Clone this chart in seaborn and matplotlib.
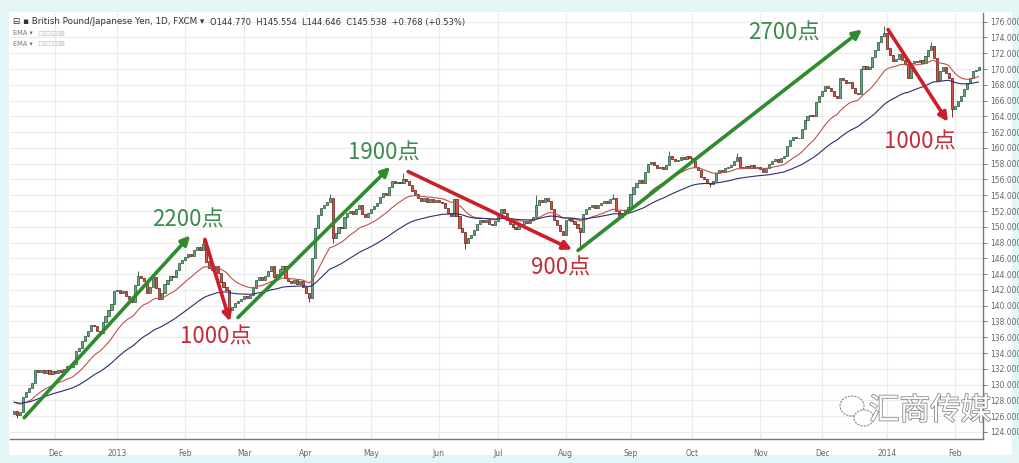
import numpy as np
import pandas as pd
import matplotlib
matplotlib.use("Agg")
import matplotlib.pyplot as plt
import seaborn as sns
from matplotlib import patheffects as pe
from matplotlib.patches import Rectangle, Ellipse

# ---------------- data (daily closes, GBP/JPY) ----------------
dates = pd.bdate_range("2012-11-13", "2014-02-13")
nov_2012 = [126.6, 126.2, 126.5, 128.4, 129.0, 129.6, 130.2, 131.8, 131.6, 131.9, 131.5, 131.8, 131.4, 131.7]
dec_2012 = [131.5, 131.9, 131.6, 132.0, 132.4, 132.2, 132.6, 134.2, 134.6, 135.5, 136.2, 136.8, 137.6, 137.4,
            136.8, 136.5, 137.9, 138.7, 139.4, 140.2, 141.8]
jan_2013 = [142.0, 141.6, 141.9, 141.2, 140.9, 140.5, 142.6, 143.8, 143.5, 143.1, 141.6, 142.4, 143.6, 142.3,
            140.8, 141.6, 142.7, 143.2, 143.8, 143.6, 144.5, 145.4, 145.8]
feb_2013 = [146.2, 146.6, 146.3, 147.0, 147.4, 147.1, 147.8, 145.6, 144.8, 144.5, 145.0, 144.1, 143.0, 142.4,
            142.0, 139.5, 139.8, 140.3, 140.6, 140.9]
mar_2013 = [141.2, 141.0, 141.4, 142.3, 143.3, 143.6, 143.2, 143.8, 144.4, 145.0, 143.6, 144.0, 144.7, 145.0,
            143.5, 143.1, 142.9, 143.2, 142.8, 143.1, 142.4]
apr_2013 = [141.6, 141.0, 146.0, 149.8, 151.5, 152.4, 152.8, 153.2, 153.6, 148.6, 149.2, 150.0, 149.8, 151.2,
            151.8, 152.0, 151.6, 152.2, 152.8, 151.6, 151.3, 151.8]
may_2013 = [152.3, 152.6, 153.0, 153.8, 154.3, 154.0, 155.0, 155.8, 155.5, 155.7, 155.6, 156.0, 155.8, 155.3,
            154.6, 154.2, 153.6, 153.3, 153.7, 153.2, 153.5, 153.1, 153.4]
jun_2013 = [153.2, 153.0, 152.4, 151.8, 151.4, 153.5, 151.4, 149.8, 149.4, 148.0, 148.6, 149.0, 149.6, 150.4,
            150.8, 150.6, 150.9, 150.4, 150.2, 150.7]
jul_2013 = [151.6, 152.2, 151.8, 150.9, 150.4, 150.0, 149.7, 150.1, 150.4, 150.7, 150.5, 150.8, 151.2, 152.8,
            153.4, 153.2, 153.6, 153.3, 152.3, 150.9, 150.2, 149.5, 149.0]
aug_2013 = [150.8, 151.0, 150.7, 150.3, 149.8, 149.4, 151.6, 152.2, 152.5, 152.8, 152.4, 152.7, 153.0, 153.3,
            153.0, 153.5, 153.7, 152.0, 151.3, 151.8, 152.1, 152.5]
sep_2013 = [154.2, 155.0, 155.6, 155.9, 155.5, 157.0, 158.0, 158.2, 157.8, 157.4, 157.6, 157.3, 157.8, 159.0,
            158.6, 158.3, 158.5, 158.9, 158.6, 159.0, 158.7]
oct_2013 = [158.4, 157.6, 157.2, 156.3, 156.0, 155.6, 155.4, 155.8, 156.8, 157.2, 157.0, 157.5, 157.6, 157.8,
            158.3, 158.9, 157.6, 157.4, 157.7, 157.5, 157.8, 157.4, 157.6]
nov_2013 = [157.3, 157.0, 157.4, 157.9, 158.3, 158.6, 158.2, 158.7, 159.0, 160.3, 161.0, 161.4, 161.2, 161.3,
            162.4, 163.5, 164.0, 164.2, 164.0, 165.8, 166.6]
dec_2013 = [167.2, 167.9, 167.6, 167.2, 166.6, 166.3, 168.9, 168.6, 168.2, 168.4, 167.6, 167.0, 166.8, 170.0,
            170.4, 170.0, 170.3, 171.5, 172.4, 173.4, 174.2, 174.6]
jan_2014 = [172.6, 171.8, 171.0, 171.3, 171.9, 171.2, 170.6, 168.8, 170.8, 171.0, 170.9, 171.1, 170.8, 171.6,
            172.4, 172.9, 171.4, 168.6, 169.8, 170.2, 169.5, 168.8, 164.9]
feb_2014 = [165.3, 166.0, 166.6, 167.5, 168.2, 168.8, 169.8, 169.9, 170.3]
first_open = 126.3
# notable wick extremes (bar number -> price)
wick_high = {42: 144.4, 64: 148.4, 107: 154.2, 132: 156.8, 177: 154.0, 203: 154.2, 222: 159.6,
             245: 159.4, 295: 175.4, 311: 173.4}
wick_low = {1: 125.8, 73: 138.6, 100: 140.5, 108: 147.9, 153: 147.2, 192: 147.6, 236: 155.0, 318: 163.9}
ema_periods = [20, 50]
ema_seed = [127.9, 127.8]

# arrows / labels (bar number, price)
arrow_text = ["2200点", "1000点", "1900点", "900点", "2700点", "1000点"]
arrow_up = [True, False, True, False, True, False]
arrow_x0 = [3.4, 64.7, 75.9, 133.6, 191.2, 296.3]
arrow_y0 = [125.8, 148.4, 138.5, 157.0, 147.0, 175.0]
arrow_x1 = [59.7, 73.2, 127.5, 189.2, 287.5, 316.6]
arrow_y1 = [148.9, 138.0, 157.6, 147.1, 175.0, 163.3]
label_x = [59.0, 68.5, 125.4, 185.4, 261.0, 307.0]
label_y = [150.9, 136.0, 159.4, 144.8, 174.6, 160.8]

# ---------------- build table ----------------
closes = np.array(nov_2012 + dec_2012 + jan_2013 + feb_2013 + mar_2013 + apr_2013 + may_2013 + jun_2013
                  + jul_2013 + aug_2013 + sep_2013 + oct_2013 + nov_2013 + dec_2013 + jan_2014 + feb_2014)
n = len(closes)
dates = dates[:n]
opens = np.r_[first_open, closes[:-1]]
highs = np.maximum(opens, closes)
lows = np.minimum(opens, closes)
for k, v in wick_high.items():
    highs[k] = v
for k, v in wick_low.items():
    lows[k] = v
idx = np.arange(n)


def ema(vals, span, seed):
    a = 2.0 / (span + 1)
    out = []
    prev = seed
    for v in vals:
        prev = a * v + (1 - a) * prev
        out.append(prev)
    return np.array(out)


df = pd.DataFrame({"bar": idx, "open": opens, "close": closes,
                   "ema_fast": ema(closes, ema_periods[0], ema_seed[0]),
                   "ema_slow": ema(closes, ema_periods[1], ema_seed[1])})

# ---------------- figure ----------------
sns.set_theme(style="white")
plt.rcParams["font.family"] = ["DejaVu Sans", "Noto Sans CJK SC"]

W, H = 1020, 463
fig = plt.figure(figsize=(W / 100, H / 100), dpi=100)
fig.patch.set_facecolor("#e4f5f6")
fig.patches.append(Rectangle((9 / W, 1 - 455 / H), (1012 - 9) / W, (455 - 12) / H,
                             transform=fig.transFigure, facecolor="white", edgecolor="none", zorder=-10))
ax = fig.add_axes([10 / W, 1 - 439 / H, (983 - 10) / W, (439 - 13) / H])
ax.set_facecolor("white")

# grid
month_starts = [i for i in range(1, n) if dates[i].month != dates[i - 1].month]
month_labels = [str(dates[i].year) if dates[i].month == 1 else dates[i].strftime("%b") for i in month_starts]
for i in month_starts:
    ax.axvline(i, color="#ececec", lw=0.8, zorder=0)
for p in range(124, 178, 2):
    ax.axhline(p, color="#ececec", lw=0.8, zorder=0)

# candles
up = closes >= opens
body_col = np.where(up, "#6ba583", "#d75442")
edge_col = np.where(up, "#225437", "#5b1a13")
ax.vlines(idx, lows, highs, colors=edge_col, lw=0.6, zorder=2)
ax.bar(idx, np.maximum(np.abs(closes - opens), 0.08), bottom=np.minimum(opens, closes), width=0.72,
       color=body_col, edgecolor=edge_col, linewidth=0.5, zorder=3)

# EMAs
sns.lineplot(data=df, x="bar", y="ema_fast", ax=ax, color="#c0504d", lw=0.8, zorder=4)
sns.lineplot(data=df, x="bar", y="ema_slow", ax=ax, color="#2e2e6e", lw=0.8, zorder=4)

# arrows and labels
for t, u, x0, y0, x1, y1, lx, ly in zip(arrow_text, arrow_up, arrow_x0, arrow_y0, arrow_x1, arrow_y1,
                                         label_x, label_y):
    acol = "#2e8b2e" if u else "#cc1f2a"
    tcol = "#3d8b4f" if u else "#c42d38"
    ax.annotate("", xy=(x1, y1), xytext=(x0, y0),
                arrowprops=dict(arrowstyle="-|>", color=acol, lw=2.6, mutation_scale=13,
                                shrinkA=0, shrinkB=0), zorder=6)
    ax.text(lx, ly, t, color=tcol, fontsize=16, ha="center", va="center",
            family=["Noto Sans CJK SC"], zorder=7)

ax.set_xlim(-1.4, 328.5)
ax.set_ylim(123.1, 177.1)
ax.set_xlabel("")
ax.set_ylabel("")
ax.set_xticks(month_starts)
ax.set_xticklabels(month_labels)
ax.set_yticks(np.arange(124, 177, 2))
ax.set_yticklabels([f"{v:.3f}" for v in np.arange(124, 177, 2)])
ax.yaxis.tick_right()
ax.tick_params(axis="both", labelsize=5.5, colors="#666666", length=3, width=0.6, direction="out")
ax.tick_params(axis="x", pad=4)
ax.tick_params(axis="y", pad=2)
for s in ["top", "left"]:
    ax.spines[s].set_visible(False)
for s in ["bottom", "right"]:
    ax.spines[s].set_color("#777777")
    ax.spines[s].set_linewidth(1.0)

# header
fig.text(13 / W, 1 - 22 / H, "⊟ ▪ British Pound/Japanese Yen, 1D, FXCM ▾", fontsize=6.3, color="#333333",
         va="center")
fig.text(210 / W, 1 - 22 / H, "O144.770  H145.554  L144.646  C145.538  +0.768 (+0.53%)", fontsize=6.0,
         color="#333333", va="center")
for yy in (33, 44):
    fig.text(13 / W, 1 - yy / H, "EMA ▾", fontsize=4.8, color="#777777", va="center")
    fig.text(37 / W, 1 - yy / H, "⊡⊡⊡⊠", fontsize=6, color="#c4c4c4", va="center")

# watermark
fig.text(930 / W, 1 - 411 / H, "汇商传媒", fontsize=22, color="white", ha="center", va="center",
         family=["Noto Sans CJK SC"],
         path_effects=[pe.Stroke(linewidth=1.2, foreground="#8a8a8a"), pe.Normal()], zorder=20)
for (cx, cy, ew, eh) in [(852, 406, 24, 20), (864, 418, 20, 16)]:
    fig.patches.append(Ellipse((cx / W, 1 - cy / H), ew / W, eh / H, transform=fig.transFigure,
                               facecolor="white", edgecolor="#8a8a8a", lw=0.8, ls=(0, (2, 1)), zorder=20))

fig.savefig("out.png", dpi=100, facecolor=fig.get_facecolor())
